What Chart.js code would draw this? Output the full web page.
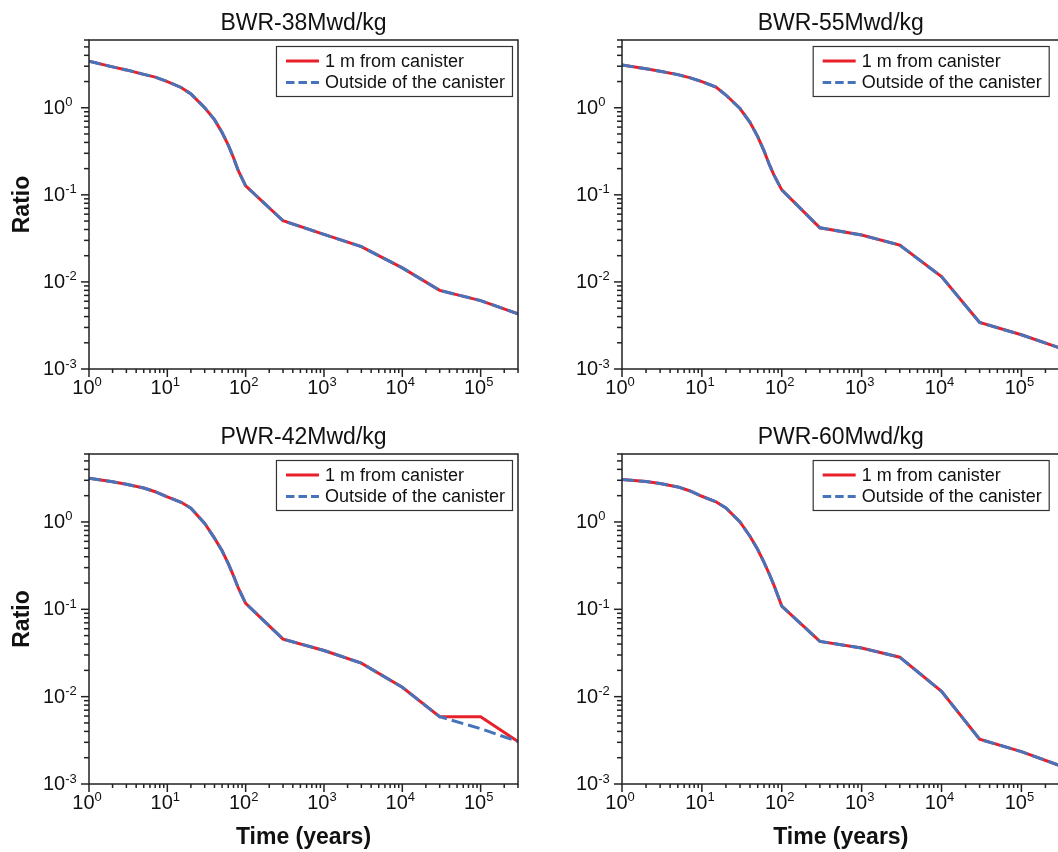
<!DOCTYPE html>
<html lang="en">
<head>
<meta charset="UTF-8">
<title>Dose ratio vs. time</title>
<script src="https://cdn.jsdelivr.net/npm/chart.js@4.4.0/dist/chart.umd.min.js"></script>
<style>
  html, body { margin: 0; padding: 0; background: #fff; overflow: hidden; }
  body { width: 1058px; height: 852px; position: relative; }
  canvas { position: absolute; }
</style>
</head>
<body>
<canvas id="bwr38" width="530" height="400" style="left:0;top:0"></canvas>
<canvas id="bwr55" width="540" height="400" style="left:530px;top:0"></canvas>
<canvas id="pwr42" width="530" height="452" style="left:0;top:400px"></canvas>
<canvas id="pwr60" width="540" height="452" style="left:530px;top:400px"></canvas>
<script>
// time points (years)
const times = [1, 2, 3, 5, 7, 10, 15, 20, 30, 40, 50, 60, 70, 80, 100, 300, 1000, 3000, 10000, 30000, 100000, 300000];

// ratio, 1 m from canister / outside of the canister
const bwr38Near    = [3.42, 2.95, 2.72, 2.42, 2.25, 2.0, 1.71, 1.44, 1.0, 0.73, 0.52, 0.373, 0.267, 0.192, 0.127, 0.0504, 0.0351, 0.0254, 0.0145, 0.0080, 0.0061, 0.0043];
const bwr38Outside = [3.42, 2.95, 2.72, 2.42, 2.25, 2.0, 1.71, 1.44, 1.0, 0.73, 0.52, 0.373, 0.267, 0.192, 0.127, 0.0504, 0.0351, 0.0254, 0.0145, 0.0080, 0.0061, 0.0043];
const bwr55Near    = [3.1, 2.8, 2.63, 2.40, 2.22, 2.0, 1.73, 1.40, 0.98, 0.68, 0.466, 0.32, 0.222, 0.168, 0.114, 0.0419, 0.0345, 0.0265, 0.0115, 0.00342, 0.00247, 0.00175];
const bwr55Outside = [3.1, 2.8, 2.63, 2.40, 2.22, 2.0, 1.73, 1.40, 0.98, 0.68, 0.466, 0.32, 0.222, 0.168, 0.114, 0.0419, 0.0345, 0.0265, 0.0115, 0.00342, 0.00247, 0.00175];
const pwr42Near    = [3.16, 2.88, 2.7, 2.45, 2.22, 1.94, 1.68, 1.44, 0.96, 0.653, 0.468, 0.333, 0.242, 0.178, 0.117, 0.0456, 0.0338, 0.0242, 0.0128, 0.0059, 0.0059, 0.00306];
const pwr42Outside = [3.16, 2.88, 2.7, 2.45, 2.22, 1.94, 1.68, 1.44, 0.96, 0.653, 0.468, 0.333, 0.242, 0.178, 0.117, 0.0456, 0.0338, 0.0242, 0.0128, 0.0059, 0.0043, 0.00306];
const pwr60Near    = [3.06, 2.9, 2.76, 2.52, 2.28, 1.97, 1.70, 1.45, 1.0, 0.686, 0.483, 0.345, 0.252, 0.188, 0.109, 0.0429, 0.036, 0.0283, 0.0115, 0.00325, 0.00235, 0.00163];
const pwr60Outside = [3.06, 2.9, 2.76, 2.52, 2.28, 1.97, 1.70, 1.45, 1.0, 0.686, 0.483, 0.345, 0.252, 0.188, 0.109, 0.0429, 0.036, 0.0283, 0.0115, 0.00325, 0.00235, 0.00163];

// decade ticks and their exponent labels
const xTicks = [1, 10, 100, 1000, 10000, 100000];
const xTickLabels = ['0', '1', '2', '3', '4', '5'];
const yTicks = [0.001, 0.01, 0.1, 1];
const yTickLabels = ['-3', '-2', '-1', '0'];

const seriesNames = ['1 m from canister', 'Outside of the canister'];

const FONT = '"Liberation Sans", Arial, Helvetica, sans-serif';
const RED = '#e8202a';
const BLUE = '#4674bb';
const AXIS = '#222';

// "10" with a raised exponent, left edge at x, baseline at y
function power(ctx, exp, x, y) {
  ctx.font = '20px ' + FONT;
  const w = ctx.measureText('10').width;
  ctx.fillText('10', x, y);
  ctx.font = '13px ' + FONT;
  ctx.fillText(exp, x + w, y - 7.5);
}
function powerWidth(ctx, exp) {
  ctx.font = '20px ' + FONT;
  const w = ctx.measureText('10').width;
  ctx.font = '13px ' + FONT;
  return w + ctx.measureText(exp).width;
}

function seg(ctx, x1, y1, x2, y2) {
  ctx.beginPath();
  ctx.moveTo(x1, y1);
  ctx.lineTo(x2, y2);
  ctx.stroke();
}

// frame, log ticks, labels, titles and boxed legend
const framePlugin = {
  id: 'frame',
  afterDraw(chart, args, opts) {
    const { ctx, chartArea: a, scales: { x, y } } = chart;
    ctx.save();
    ctx.strokeStyle = AXIS;
    ctx.fillStyle = '#111';
    ctx.lineWidth = 1.5;
    ctx.strokeRect(a.left, a.top, a.right - a.left, a.bottom - a.top);

    // y ticks, pointing out to the left
    for (let e = -3; e <= 0; e++) {
      for (let m = 1; m < 10; m++) {
        const v = m * Math.pow(10, e);
        if (v > y.max * 1.0001) break;
        const py = y.getPixelForValue(v);
        seg(ctx, a.left - (m === 1 ? 8 : 5), py, a.left, py);
      }
    }
    // x ticks, pointing down
    for (let e = 0; e <= 5; e++) {
      for (let m = 1; m < 10; m++) {
        const v = m * Math.pow(10, e);
        if (v > x.max * 1.0001) break;
        const px = x.getPixelForValue(v);
        seg(ctx, px, a.bottom, px, a.bottom + (m === 1 ? 8 : 4));
      }
    }

    ctx.textBaseline = 'alphabetic';
    ctx.textAlign = 'left';
    yTicks.forEach((v, i) => {
      power(ctx, yTickLabels[i], a.left - 46, y.getPixelForValue(v) + 6);
    });
    xTicks.forEach((v, i) => {
      const w = powerWidth(ctx, xTickLabels[i]);
      power(ctx, xTickLabels[i], x.getPixelForValue(v) - 2 - w / 2, a.bottom + 24.5);
    });

    // panel title
    const cx = (a.left + a.right) / 2;
    ctx.textAlign = 'center';
    ctx.font = '23px ' + FONT;
    ctx.fillText(opts.title, cx, a.top - 10.5);

    ctx.font = 'bold 23px ' + FONT;
    if (opts.xTitle) ctx.fillText('Time (years)', cx, a.bottom + 60);
    if (opts.yTitle) {
      ctx.save();
      ctx.translate(29, (a.top + a.bottom) / 2);
      ctx.rotate(-Math.PI / 2);
      ctx.fillText('Ratio', 0, 0);
      ctx.restore();
    }

    // legend box
    const bx = a.left + 0.437 * (a.right - a.left);
    const by = a.top + 6.5;
    ctx.fillStyle = '#fff';
    ctx.fillRect(bx, by, 236, 50);
    ctx.strokeStyle = '#333';
    ctx.lineWidth = 1.2;
    ctx.strokeRect(bx, by, 236, 50);
    ctx.textAlign = 'left';
    ctx.textBaseline = 'middle';
    ctx.font = '18px ' + FONT;
    chart.data.datasets.forEach((ds, i) => {
      const ly = by + 14.5 + i * 21.5;
      ctx.strokeStyle = ds.borderColor;
      ctx.lineWidth = 3;
      ctx.setLineDash(i === 0 ? [] : [8.5, 4]);
      seg(ctx, bx + 9.5, ly, bx + 42.5, ly);
      ctx.setLineDash([]);
      ctx.fillStyle = '#111';
      ctx.fillText(ds.label, bx + 48.5, ly + 1);
    });
    ctx.restore();
  }
};

function makePanel(id, title, near, outside, padding, xTitle, yTitle) {
  const pts = vals => times.map((t, i) => ({ x: t, y: vals[i] }));
  return new Chart(document.getElementById(id), {
    type: 'line',
    data: {
      datasets: [
        {
          label: seriesNames[0],
          data: pts(near),
          borderColor: RED,
          borderWidth: 3,
          pointRadius: 0,
          tension: 0,
          order: 2
        },
        {
          label: seriesNames[1],
          data: pts(outside),
          borderColor: BLUE,
          borderWidth: 3,
          borderDash: [12, 5],
          pointRadius: 0,
          tension: 0,
          order: 1
        }
      ]
    },
    options: {
      responsive: false,
      animation: false,
      devicePixelRatio: 1,
      layout: { padding },
      scales: {
        x: { type: 'logarithmic', min: 1, max: 300000, display: false },
        y: { type: 'logarithmic', min: 0.001, max: 6, display: false }
      },
      plugins: {
        legend: { display: false },
        tooltip: { enabled: false },
        frame: { title, xTitle, yTitle }
      }
    },
    plugins: [framePlugin]
  });
}

makePanel('bwr38', 'BWR-38Mwd/kg', bwr38Near, bwr38Outside, { left: 89, top: 40, right: 12, bottom: 31 }, false, true);
makePanel('bwr55', 'BWR-55Mwd/kg', bwr55Near, bwr55Outside, { left: 92, top: 40, right: 10.5, bottom: 31 }, false, false);
makePanel('pwr42', 'PWR-42Mwd/kg', pwr42Near, pwr42Outside, { left: 89, top: 54, right: 12, bottom: 68 }, true, true);
makePanel('pwr60', 'PWR-60Mwd/kg', pwr60Near, pwr60Outside, { left: 92, top: 54, right: 10.5, bottom: 68 }, true, false);
</script>
</body>
</html>
